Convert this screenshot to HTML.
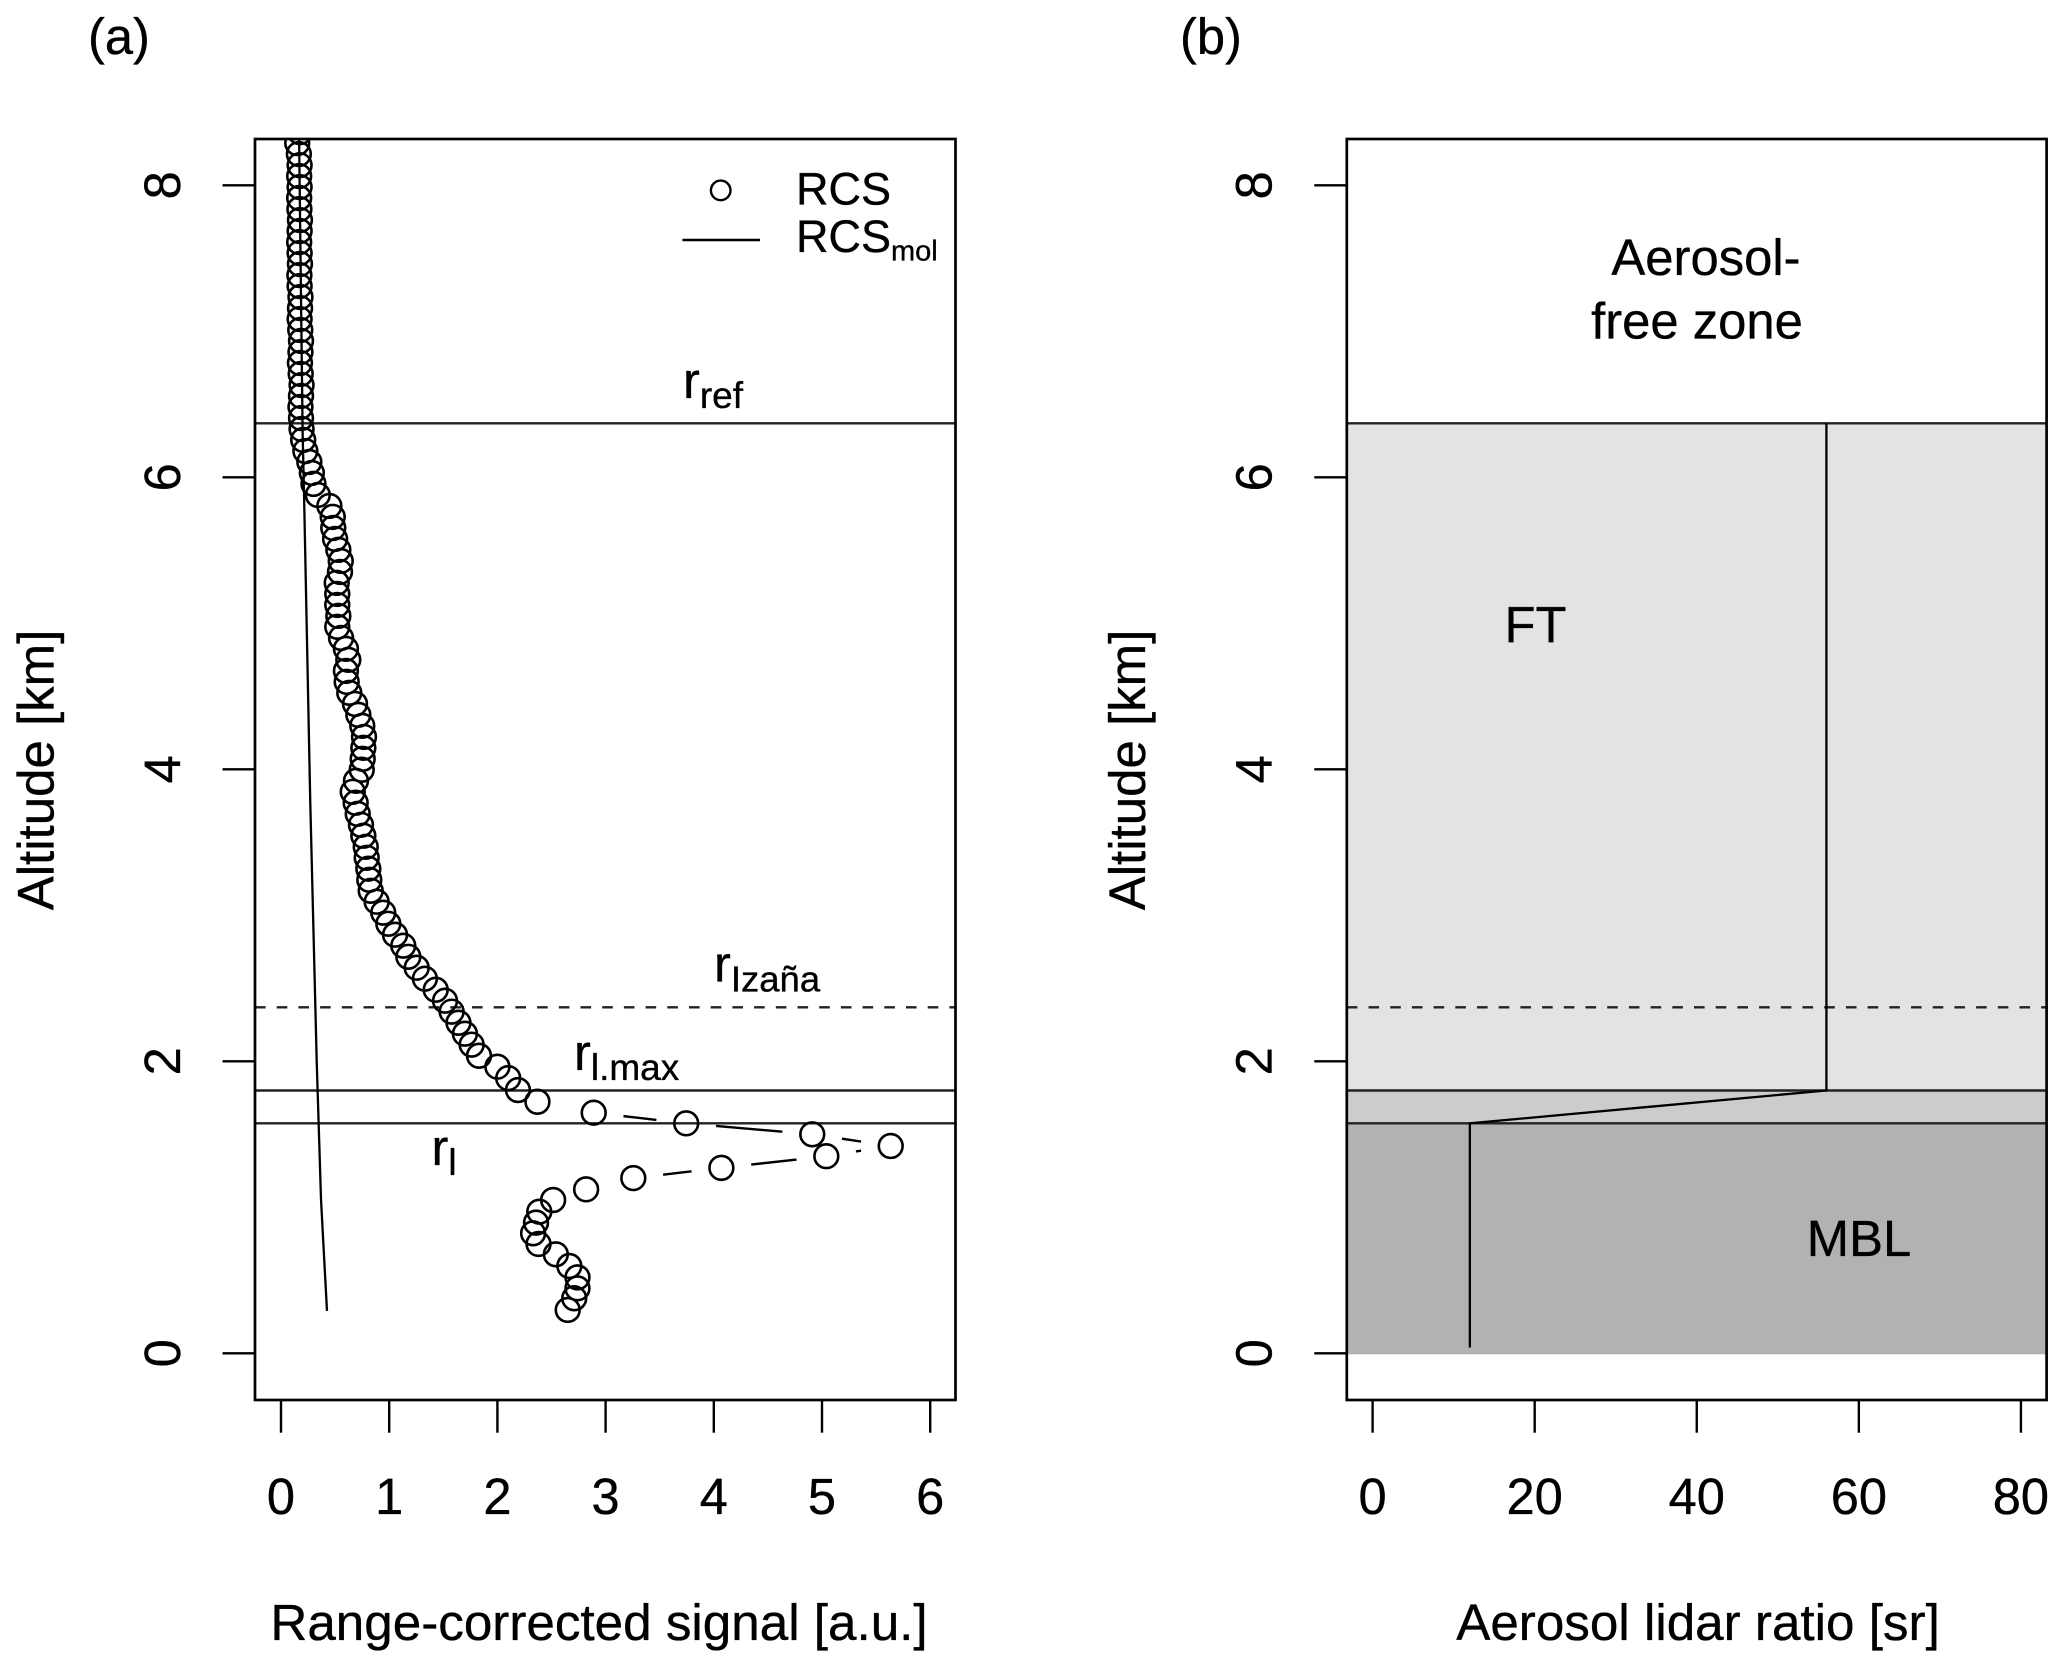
<!DOCTYPE html>
<html lang="en">
<head>
<meta charset="utf-8">
<title>Range-corrected signal and aerosol lidar ratio profiles</title>
<style>
html,body{margin:0;padding:0;background:#fff;}
svg{display:block;}
text{font-family:"Liberation Sans",Arial,sans-serif;fill:#000;stroke:#000;stroke-width:0.35px;}
</style>
</head>
<body>
<svg id="fig" xmlns="http://www.w3.org/2000/svg" width="2067" height="1669" viewBox="0 0 2067 1669">
  <defs>
    <clipPath id="clipA"><rect x="255" y="139" width="700.5" height="1261"/></clipPath>
    <clipPath id="clipB"><rect x="1347" y="139" width="699.6" height="1261"/></clipPath>
  </defs>
  <rect width="2067" height="1669" fill="#fff"/>
  <g id="panelB" clip-path="url(#clipB)"></g>
  <g id="panelA" clip-path="url(#clipA)"></g>
  <g id="axes"></g>

  <text x="88" y="54" font-size="50.6">(a)</text>
  <text x="1180" y="54" font-size="50.6">(b)</text>

  <text x="599" y="1640" font-size="51.2" text-anchor="middle">Range-corrected signal [a.u.]</text>
  <text x="1698" y="1640" font-size="51.2" text-anchor="middle">Aerosol lidar ratio [sr]</text>
  <text transform="translate(53.3 770) rotate(-90)" font-size="51" text-anchor="middle">Altitude [km]</text>
  <text transform="translate(1145 770) rotate(-90)" font-size="51" text-anchor="middle">Altitude [km]</text>

  <g>
    <circle cx="720.7" cy="190.4" r="9.8" fill="none" stroke="#000" stroke-width="2.4"/>
    <line x1="682.4" x2="760" y1="240" y2="240" stroke="#000" stroke-width="2.4"/>
    <text x="796" y="204.6" font-size="45">RCS</text>
    <text x="796" y="251.8" font-size="45">RCS<tspan font-size="29" y="260.7">mol</tspan></text>
  </g>

  <text x="683" y="398" font-size="50.6">r<tspan font-size="37" y="408">ref</tspan></text>
  <text x="714" y="981.7" font-size="50.6">r<tspan font-size="36.5" y="991.7">Izaña</tspan></text>
  <text x="574" y="1070" font-size="50.6">r<tspan font-size="37" y="1080">l.max</tspan></text>
  <text x="431.5" y="1165" font-size="50.6">r<tspan font-size="37" y="1175">l</tspan></text>

  <text x="1706" y="275" font-size="50.8" text-anchor="middle">Aerosol-</text>
  <text x="1697" y="338.3" font-size="50.8" text-anchor="middle">free zone</text>
  <text x="1535.5" y="642.3" font-size="50.8" text-anchor="middle">FT</text>
  <text x="1859" y="1256" font-size="50.8" text-anchor="middle">MBL</text>
</svg>

<script>
/* Panel (a): range-corrected signal profile */
const rcsAltitude = [0.297,0.377,0.445,0.52,0.598,0.678,0.749,0.822,0.895,0.97,1.05,1.123,1.2,1.27,1.35,1.42,1.5,1.575,1.648,1.723,1.803,1.885,1.963,
  2.038,2.114,2.189,2.264,2.34,2.415,2.49,2.566,2.641,2.716,2.792,2.867,2.942,3.018,3.093,3.168,3.243,3.319,3.394,3.469,3.545,3.62,3.695,3.771,3.846,3.921,3.997,4.072,
  4.147,4.222,4.298,4.373,4.448,4.524,4.599,4.674,4.75,4.825,4.9,4.976,5.051,5.126,5.201,5.277,5.352,5.427,5.503,5.578,5.653,5.729,5.804,5.879,5.955,6.03,6.105,6.18,6.256,
  6.331,6.406,6.482,6.557,6.632,6.708,6.783,6.858,6.934,7.009,7.084,7.159,7.235,7.31,7.385,7.461,7.536,7.611,7.687,7.762,7.837,7.913,7.988,8.063,8.138,8.214,8.289,8.364];
const rcsSignal = [2.65,2.71,2.74,2.74,2.665,2.54,2.38,2.33,2.357,2.387,2.515,2.82,3.256,4.07,5.04,5.635,4.91,3.745,2.89,2.37,2.19,2.1,2.0,
  1.83,1.762,1.70,1.64,1.577,1.516,1.43,1.33,1.254,1.177,1.13,1.054,0.992,0.945,0.884,0.829,0.816,0.807,0.792,0.783,0.761,0.739,0.709,0.69,0.663,0.693,0.746,0.755,
  0.761,0.767,0.751,0.715,0.684,0.631,0.607,0.60,0.622,0.60,0.555,0.52,0.53,0.52,0.52,0.515,0.545,0.552,0.53,0.5,0.483,0.478,0.447,0.34,0.30,0.285,0.262,0.225,0.205,
  0.19,0.185,0.18,0.185,0.19,0.182,0.175,0.18,0.185,0.178,0.172,0.176,0.18,0.172,0.17,0.175,0.172,0.168,0.172,0.175,0.17,0.168,0.172,0.168,0.172,0.165,0.15,0.175];

/* Molecular signal */
const molAltitude = [8.4,6.3,5.9,3.79,2.0,1.05,0.29];
const molSignal = [0.166,0.2,0.2125,0.27,0.33,0.37,0.425];

/* Reference altitudes (km) */
const refAltitude = 6.37;
const izanaAltitude = 2.37;
const lMaxAltitude = 1.8;
const lAltitude = 1.575;

/* Panel (b): lidar ratio profile */
const ratioAltitude = [6.37,1.8,1.575,0.04];
const ratioValue = [56,56,12,12];
const zoneBottoms = [1.8,1.575,0];
const zoneTops = [6.37,1.8,1.575];
const zoneNames = ['free-troposphere-zone','transition-zone','marine-boundary-layer-zone'];
const zoneFills = ['#e3e3e3','#cccccc','#b2b2b2'];

/* Tick labels */
const altitudeTicks = [0,2,4,6,8];
const signalTicks = [0,1,2,3,4,5,6];
const ratioTicks = [0,20,40,60,80];

/* Axis functions */
function yAlt(a){ return 1353.3 - 146 * a; }
function xSignal(v){ return 281 + 108.2 * v; }
function xRatio(v){ return 1372.6 + 8.104 * v; }

const NS = 'http://www.w3.org/2000/svg';
const panelA = document.getElementById('panelA');
const panelB = document.getElementById('panelB');
const axes = document.getElementById('axes');

function make(tag, parent, attrs){
  const el = document.createElementNS(NS, tag);
  for (const k in attrs) el.setAttribute(k, attrs[k]);
  parent.appendChild(el);
  return el;
}
function segment(parent, x1, y1, x2, y2, color, width, dash){
  const el = make('line', parent, {x1:x1, y1:y1, x2:x2, y2:y2, stroke:color, 'stroke-width':width});
  if (dash) el.setAttribute('stroke-dasharray', dash);
  return el;
}

const AL = 255, AR = 955.5, BL = 1346.8, BR = 2046.6, TOP = 139, BOT = 1400;

/* ----- Panel B zones ----- */
zoneBottoms.forEach(function(b, i){
  const r = make('rect', panelB, {x:BL, width:BR-BL, y:yAlt(zoneTops[i]), height:yAlt(b)-yAlt(zoneTops[i]) + (i === 2 ? 1 : 0), fill:zoneFills[i]});
  
  
});

/* ----- Horizontal reference lines in both panels ----- */
[[panelA,AL,AR,'a'],[panelB,BL,BR,'b']].forEach(function(p){
  const l1 = segment(p[0], p[1], yAlt(refAltitude), p[2], yAlt(refAltitude), '#222', 2.4);
  
  
  const l2 = segment(p[0], p[1], yAlt(izanaAltitude), p[2], yAlt(izanaAltitude), '#222', 2.4, '10.6 11.1');
  
  
  const l3 = segment(p[0], p[1], yAlt(lMaxAltitude), p[2], yAlt(lMaxAltitude), '#222', 2.4);
  
  
  const l4 = segment(p[0], p[1], yAlt(lAltitude), p[2], yAlt(lAltitude), '#222', 2.4);
  
  
});

/* ----- Lidar ratio line ----- */
const ratioLine = make('polyline', panelB, {
  points: ratioValue.map(function(v,i){ return xRatio(v).toFixed(2) + ',' + yAlt(ratioAltitude[i]).toFixed(2); }).join(' '),
  fill:'none', stroke:'#000', 'stroke-width':2.3
});



/* ----- Molecular line ----- */
const molLine = make('polyline', panelA, {
  points: molSignal.map(function(v,i){ return xSignal(v).toFixed(2) + ',' + yAlt(molAltitude[i]).toFixed(2); }).join(' '),
  fill:'none', stroke:'#000', 'stroke-width':2.3
});



/* ----- RCS series: R type="b" (gapped segments + open circles) ----- */
const GAP = 30;
for (let i = 0; i < rcsSignal.length - 1; i++){
  const x1 = xSignal(rcsSignal[i]), y1 = yAlt(rcsAltitude[i]);
  const x2 = xSignal(rcsSignal[i+1]), y2 = yAlt(rcsAltitude[i+1]);
  const d = Math.hypot(x2-x1, y2-y1);
  if (d > 2*GAP){
    const ux = (x2-x1)/d, uy = (y2-y1)/d;
    const s = segment(panelA, x1+ux*GAP, y1+uy*GAP, x2-ux*GAP, y2-uy*GAP, '#000', 2.4);
    
    
  }
}
rcsSignal.forEach(function(v, i){
  const c = make('circle', panelA, {cx:xSignal(v), cy:yAlt(rcsAltitude[i]), r:11.9, fill:'none', stroke:'#000', 'stroke-width':2.6});
  
  
});

/* ----- Plot boxes ----- */
const boxA = make('rect', axes, {x:AL, y:TOP, width:AR-AL, height:BOT-TOP, fill:'none', stroke:'#000', 'stroke-width':2.7});


const boxB = make('rect', axes, {x:BL, y:TOP, width:BR-BL, height:BOT-TOP, fill:'none', stroke:'#000', 'stroke-width':2.7});



/* ----- Y axes ----- */
[[AL,'a'],[BL,'b']].forEach(function(p){
  altitudeTicks.forEach(function(t){
    const y = yAlt(t);
    const tk = segment(axes, p[0]-32.5, y, p[0], y, '#000', 2.4);
    
    
    const lb = make('text', axes, {transform:'translate(' + (p[0]-75.2) + ' ' + y + ') rotate(-90)', 'font-size':50.6, 'text-anchor':'middle'});
    lb.textContent = String(t);
    
    
  });
});

/* ----- X axes ----- */
signalTicks.forEach(function(t){
  const x = xSignal(t);
  const tk = segment(axes, x, BOT, x, BOT+32.7, '#000', 2.4);
  
  
  const lb = make('text', axes, {x:x, y:1514, 'font-size':50.6, 'text-anchor':'middle'});
  lb.textContent = String(t);
  
  
});
ratioTicks.forEach(function(t){
  const x = xRatio(t);
  const tk = segment(axes, x, BOT, x, BOT+32.7, '#000', 2.4);
  
  
  const lb = make('text', axes, {x:x, y:1514, 'font-size':50.6, 'text-anchor':'middle'});
  lb.textContent = String(t);
  
  
});
</script>
</body>
</html>
